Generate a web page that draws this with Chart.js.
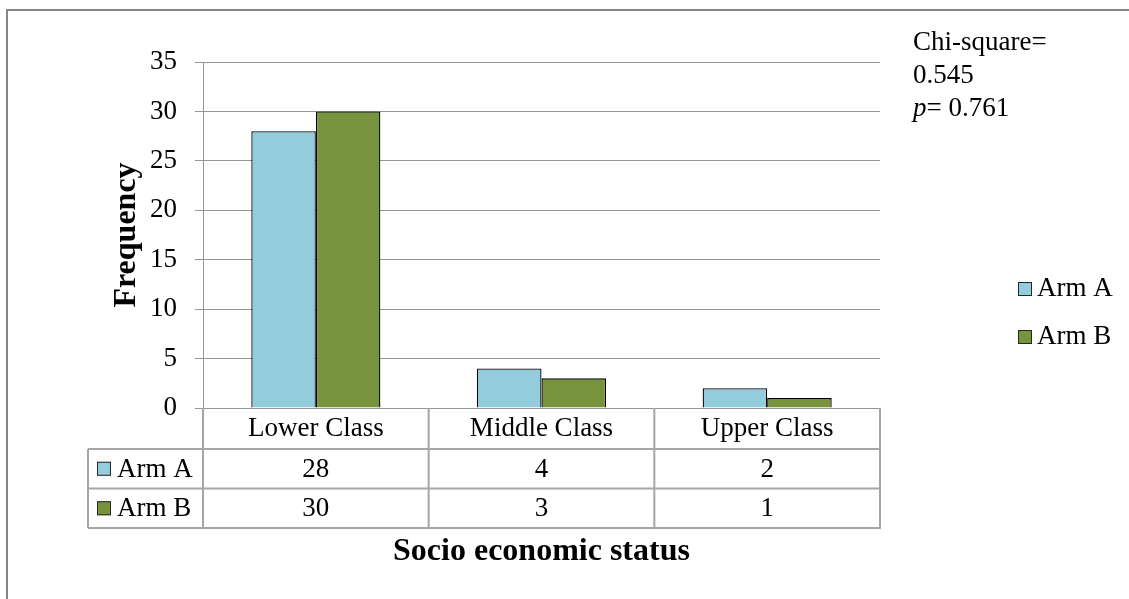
<!DOCTYPE html>
<html><head><meta charset="utf-8">
<script src="https://cdn.jsdelivr.net/npm/chart.js@4"></script>
<style>html,body{margin:0;padding:0;background:#fff;}#wrap{width:1129px;height:599px;position:relative;}</style>
</head><body><div id="wrap"><canvas id="c" width="1129" height="599"></canvas></div>
<script>
const categories = ['Lower Class', 'Middle Class', 'Upper Class'];
const seriesNames = ['Arm A', 'Arm B'];
const armA = [28, 4, 2];
const armB = [30, 3, 1];
const yMax = 35;
const yStep = 5;
const xTitle = 'Socio economic status';
const yTitle = 'Frequency';
const chiLabel = 'Chi-square=';
const chiValue = '0.545';
const pLabel = 'p';
const pValue = '= 0.761';

const FONT = '"Liberation Serif", "Times New Roman", serif';
const colorA = '#93CDDD';
const colorB = '#77933C';
const gridColor = '#969696';
const tableColor = '#a6a6a6';

const extras = {
  id: 'extras',
  beforeDraw(chart) {
    const ctx = chart.ctx;
    ctx.save();
    ctx.strokeStyle = '#858585';
    ctx.lineWidth = 2;
    ctx.beginPath();
    ctx.moveTo(7, 599); ctx.lineTo(7, 10); ctx.lineTo(1129, 10);
    ctx.stroke();
    ctx.restore();
  },
  afterDraw(chart) {
    const ctx = chart.ctx;
    const ca = chart.chartArea;
    const x = chart.scales.x;
    const half = (x.getPixelForValue(1) - x.getPixelForValue(0)) / 2;
    const rowTop = ca.bottom;
    const r1 = rowTop + 41, r2 = r1 + 39.5, r3 = r2 + 39.5;
    const tableLeft = 88;
    ctx.save();
    ctx.strokeStyle = tableColor;
    ctx.lineWidth = 2;
    ctx.beginPath();
    [r1, r2, r3].forEach(y => { ctx.moveTo(tableLeft, y); ctx.lineTo(ca.right + 1, y); });
    ctx.moveTo(tableLeft, r1); ctx.lineTo(tableLeft, r3);
    for (let i = 0; i <= categories.length; i++) {
      const xx = i < categories.length ? x.getPixelForValue(i) - half : x.getPixelForValue(categories.length - 1) + half;
      ctx.moveTo(xx, rowTop); ctx.lineTo(xx, r3);
    }
    ctx.stroke();

    ctx.font = '27px ' + FONT;
    ctx.textBaseline = 'middle';
    chart.data.datasets.forEach((ds, di) => {
      const yc = di === 0 ? (r1 + r2) / 2 : (r2 + r3) / 2;
      ctx.fillStyle = '#000';
      ctx.textAlign = 'center';
      ds.data.forEach((v, i) => ctx.fillText(String(v), x.getPixelForValue(i), yc + 1));
      // key in table
      ctx.fillStyle = ds.backgroundColor;
      ctx.fillRect(97, yc - 7, 14, 14);
      ctx.strokeStyle = '#262626';
      ctx.lineWidth = 1;
      ctx.strokeRect(97.5, yc - 6.5, 13, 13);
      ctx.fillStyle = '#000';
      ctx.textAlign = 'left';
      ctx.fillText(ds.label, 117, yc + 1);
      // legend on right
      const ly = di === 0 ? 289 : 337;
      ctx.fillStyle = ds.backgroundColor;
      ctx.fillRect(1018, ly - 7, 14, 14);
      ctx.strokeRect(1018.5, ly - 6.5, 13, 13);
      ctx.fillStyle = '#000';
      ctx.fillText(ds.label, 1037, ly);
    });

    // annotation
    ctx.textBaseline = 'alphabetic';
    ctx.textAlign = 'left';
    ctx.font = '27px ' + FONT;
    ctx.fillText(chiLabel, 913, 50);
    ctx.fillText(chiValue, 913, 83);
    ctx.font = 'italic 27px ' + FONT;
    ctx.fillText(pLabel, 913, 116);
    const pw = ctx.measureText(pLabel).width;
    ctx.font = '27px ' + FONT;
    ctx.fillText(pValue, 913 + pw, 116);
    ctx.restore();
  }
};

new Chart(document.getElementById('c'), {
  type: 'bar',
  data: {
    labels: categories,
    datasets: [
      { label: seriesNames[0], data: armA, backgroundColor: colorA, borderColor: '#000', borderWidth: 1.3 },
      { label: seriesNames[1], data: armB, backgroundColor: colorB, borderColor: '#000', borderWidth: 1.3 }
    ]
  },
  options: {
    responsive: false,
    animation: false,
    devicePixelRatio: 1,
    layout: { padding: { left: 108, top: 62, right: 249, bottom: 28 } },
    datasets: { bar: { categoryPercentage: 0.572, barPercentage: 1 } },
    plugins: { legend: { display: false }, tooltip: { enabled: false } },
    scales: {
      x: {
        grid: { display: false, drawTicks: false },
        border: { display: true, color: gridColor, width: 1 },
        ticks: { color: '#000', font: { family: FONT, size: 27 }, padding: 5, maxRotation: 0 },
        title: { display: true, text: xTitle, color: '#000', font: { family: FONT, size: 32, weight: 'bold' }, padding: { top: 0, bottom: 0 } },
        afterFit(s) { s.height = 163; }
      },
      y: {
        min: 0, max: yMax,
        ticks: { stepSize: yStep, color: '#000', font: { family: FONT, size: 27 }, padding: 18 },
        grid: { color: gridColor, lineWidth: 1, tickLength: 8 },
        border: { display: true, color: gridColor, width: 1 },
        title: { display: true, text: yTitle, color: '#000', font: { family: FONT, size: 32, weight: 'bold' }, padding: { top: 0, bottom: 0 } },
        afterFit(s) { s.width = 95; }
      }
    }
  },
  plugins: [extras]
});
</script></body></html>
